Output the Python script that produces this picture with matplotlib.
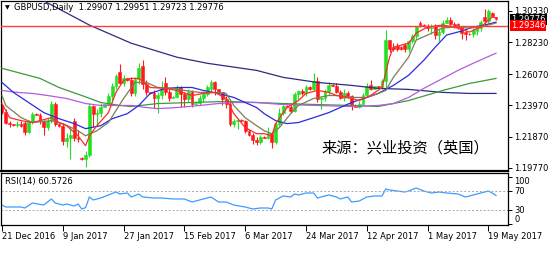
import matplotlib
matplotlib.use("Agg")
import matplotlib.pyplot as plt
import matplotlib.transforms as mtransforms
import numpy as np

# GBPUSD daily bars, 21 Dec 2016 .. 22 May 2017 (broker shows Sunday bars)
opens = [1.2395, 1.2350, 1.2280, 1.2270, 1.2265, 1.2275, 1.2280, 1.2220, 1.2285, 1.2340,
         1.2335, 1.2290, 1.2250, 1.2295, 1.2410, 1.2275, 1.2260, 1.2160, 1.2175, 1.2290,
         1.2180, 1.2045, 1.2035, 1.2065, 1.2395, 1.2340, 1.2345, 1.2390, 1.2405, 1.2460,
         1.2530, 1.2620, 1.2550, 1.2580, 1.2570, 1.2480, 1.2575, 1.2660, 1.2540, 1.2485,
         1.2480, 1.2450, 1.2470, 1.2550, 1.2490, 1.2450, 1.2455, 1.2520, 1.2475, 1.2440,
         1.2490, 1.2410, 1.2415, 1.2450, 1.2475, 1.2505, 1.2555, 1.2505, 1.2485, 1.2440,
         1.2405, 1.2270, 1.2290, 1.2300, 1.2295, 1.2225, 1.2200, 1.2165, 1.2150, 1.2185,
         1.2180, 1.2210, 1.2150, 1.2270, 1.2345, 1.2395, 1.2390, 1.2360, 1.2475, 1.2495,
         1.2480, 1.2520, 1.2505, 1.2560, 1.2440, 1.2450, 1.2495, 1.2535, 1.2530, 1.2490,
         1.2450, 1.2480, 1.2460, 1.2400, 1.2390, 1.2410, 1.2470, 1.2535, 1.2510, 1.2525,
         1.2520, 1.2565, 1.2835, 1.2790, 1.2800, 1.2790, 1.2805, 1.2775, 1.2830, 1.2865,
         1.2955, 1.2940, 1.2930, 1.2920, 1.2930, 1.2870, 1.2890, 1.2955, 1.2975, 1.2945,
         1.2945, 1.2925, 1.2890, 1.2880, 1.2875, 1.2895, 1.2920, 1.2990, 1.2965, 1.3020,
         1.29907]
highs = [1.2410, 1.2375, 1.2295, 1.2275, 1.2290, 1.2290, 1.2295, 1.2300, 1.2355, 1.2345,
         1.2345, 1.2300, 1.2310, 1.2430, 1.2420, 1.2280, 1.2275, 1.2210, 1.2250, 1.2310,
         1.2230, 1.2050, 1.2090, 1.2415, 1.2400, 1.2370, 1.2415, 1.2410, 1.2480, 1.2545,
         1.2610, 1.2674, 1.2600, 1.2585, 1.2590, 1.2590, 1.2680, 1.2706, 1.2570, 1.2490,
         1.2500, 1.2490, 1.2560, 1.2586, 1.2510, 1.2460, 1.2535, 1.2530, 1.2490, 1.2510,
         1.2500, 1.2420, 1.2470, 1.2490, 1.2535, 1.2570, 1.2565, 1.2510, 1.2490, 1.2460,
         1.2420, 1.2305, 1.2315, 1.2305, 1.2300, 1.2240, 1.2215, 1.2185, 1.2200, 1.2190,
         1.2250, 1.2215, 1.2285, 1.2380, 1.2400, 1.2400, 1.2400, 1.2485, 1.2500, 1.2510,
         1.2535, 1.2525, 1.2615, 1.2590, 1.2460, 1.2510, 1.2555, 1.2540, 1.2545, 1.2500,
         1.2510, 1.2495, 1.2470, 1.2405, 1.2425, 1.2480, 1.2545, 1.2570, 1.2530, 1.2530,
         1.2575, 1.2905, 1.2840, 1.2820, 1.2815, 1.2800, 1.2820, 1.2840, 1.2875, 1.2935,
         1.2965, 1.2945, 1.2945, 1.2945, 1.2945, 1.2915, 1.2970, 1.2990, 1.2990, 1.2960,
         1.2955, 1.2935, 1.2900, 1.2885, 1.2920, 1.2935, 1.2970, 1.3048, 1.3045, 1.3025,
         1.29951]
lows = [1.2340, 1.2270, 1.2255, 1.2260, 1.2250, 1.2250, 1.2200, 1.2210, 1.2270, 1.2330,
        1.2270, 1.2200, 1.2235, 1.2280, 1.2260, 1.2255, 1.2130, 1.2120, 1.2040, 1.2160,
        1.2150, 1.2030, 1.1986, 1.2050, 1.2255, 1.2260, 1.2320, 1.2385, 1.2400, 1.2420,
        1.2510, 1.2540, 1.2530, 1.2560, 1.2460, 1.2460, 1.2540, 1.2510, 1.2470, 1.2475,
        1.2380, 1.2345, 1.2440, 1.2470, 1.2430, 1.2445, 1.2445, 1.2390, 1.2385, 1.2420,
        1.2385, 1.2405, 1.2400, 1.2420, 1.2460, 1.2490, 1.2470, 1.2480, 1.2400, 1.2380,
        1.2260, 1.2250, 1.2240, 1.2290, 1.2210, 1.2190, 1.2140, 1.2130, 1.2140, 1.2175,
        1.2170, 1.2110, 1.2140, 1.2260, 1.2330, 1.2385, 1.2345, 1.2350, 1.2440, 1.2470,
        1.2460, 1.2500, 1.2500, 1.2420, 1.2375, 1.2430, 1.2470, 1.2525, 1.2480, 1.2440,
        1.2430, 1.2450, 1.2365, 1.2385, 1.2380, 1.2400, 1.2460, 1.2500, 1.2505, 1.2515,
        1.2510, 1.2515, 1.2755, 1.2765, 1.2765, 1.2770, 1.2755, 1.2760, 1.2815, 1.2845,
        1.2925, 1.2925, 1.2895, 1.2880, 1.2845, 1.2830, 1.2880, 1.2950, 1.2930, 1.2915,
        1.2910, 1.2845, 1.2840, 1.2870, 1.2860, 1.2870, 1.2900, 1.2945, 1.2955, 1.2995,
        1.29723]
closes = [1.2350, 1.2280, 1.2270, 1.2265, 1.2275, 1.2260, 1.2220, 1.2285, 1.2340, 1.2335,
          1.2290, 1.2250, 1.2295, 1.2410, 1.2275, 1.2260, 1.2160, 1.2175, 1.2195, 1.2180,
          1.2170, 1.2035, 1.2065, 1.2395, 1.2340, 1.2345, 1.2390, 1.2405, 1.2460, 1.2530,
          1.2595, 1.2550, 1.2585, 1.2570, 1.2480, 1.2575, 1.2650, 1.2540, 1.2485, 1.2480,
          1.2450, 1.2470, 1.2510, 1.2490, 1.2450, 1.2455, 1.2520, 1.2475, 1.2440, 1.2490,
          1.2410, 1.2415, 1.2450, 1.2475, 1.2520, 1.2555, 1.2505, 1.2485, 1.2440, 1.2405,
          1.2270, 1.2290, 1.2300, 1.2295, 1.2225, 1.2200, 1.2165, 1.2150, 1.2185, 1.2180,
          1.2210, 1.2150, 1.2270, 1.2345, 1.2395, 1.2390, 1.2360, 1.2475, 1.2495, 1.2480,
          1.2520, 1.2505, 1.2560, 1.2440, 1.2450, 1.2495, 1.2535, 1.2530, 1.2490, 1.2450,
          1.2480, 1.2460, 1.2400, 1.2390, 1.2410, 1.2470, 1.2530, 1.2510, 1.2525, 1.2520,
          1.2565, 1.2835, 1.2775, 1.2780, 1.2780, 1.2780, 1.2775, 1.2830, 1.2865, 1.2930,
          1.2940, 1.2930, 1.2920, 1.2925, 1.2870, 1.2890, 1.2955, 1.2975, 1.2945, 1.2935,
          1.2925, 1.2885, 1.2880, 1.2875, 1.2905, 1.2925, 1.2960, 1.2965, 1.3030, 1.3000,
          1.29776]

# moving averages at some bars
fast_ma_bars = [0, 2, 5, 8, 13, 15, 17, 20, 22, 23, 25, 28, 30, 32, 34, 36, 39, 43, 46, 50,
                53, 56, 59, 61, 64, 67, 69, 71, 72, 75, 78, 80, 83, 86, 88, 92, 94, 97, 100, 102,
                103, 107, 109, 112, 116, 119, 123, 126, 129, 130]
fast_ma = [1.2410, 1.2315, 1.2295, 1.2282, 1.2315, 1.2282, 1.2261, 1.2193, 1.2126, 1.2193,
           1.2261, 1.2349, 1.2485, 1.2566, 1.2579, 1.2579, 1.2518, 1.2512, 1.2498, 1.2464,
           1.2478, 1.2485, 1.2444, 1.2342, 1.2248, 1.2207, 1.2207, 1.2193, 1.2275, 1.2383,
           1.2430, 1.2478, 1.2498, 1.2485, 1.2464, 1.2444, 1.2430, 1.2464, 1.2518, 1.2722,
           1.2789, 1.2816, 1.2884, 1.2925, 1.2938, 1.2925, 1.2891, 1.2925, 1.2992, 1.2986]
olive_ma_bars = [0, 1, 5, 8, 13, 16, 20, 22, 25, 28, 30, 32, 35, 38, 41, 45, 48, 52, 55, 59,
                 61, 64, 67, 69, 71, 73, 76, 78, 82, 86, 89, 92, 96, 99, 101, 103, 107, 109, 112, 116,
                 119, 123, 126, 130]
olive_ma = [1.2464, 1.2397, 1.2315, 1.2282, 1.2295, 1.2275, 1.2227, 1.2193, 1.2227, 1.2282,
            1.2363, 1.2444, 1.2552, 1.2552, 1.2518, 1.2512, 1.2498, 1.2485, 1.2485, 1.2478,
            1.2397, 1.2315, 1.2261, 1.2227, 1.2207, 1.2248, 1.2342, 1.2397, 1.2444, 1.2464,
            1.2464, 1.2451, 1.2451, 1.2478, 1.2498, 1.2586, 1.2722, 1.2837, 1.2871, 1.2918,
            1.2925, 1.2918, 1.2925, 1.2952]
blue_ma_bars = [0, 3, 7, 11, 15, 19, 22, 26, 29, 33, 36, 39, 43, 47, 50, 53, 57, 61, 64, 67,
                69, 72, 75, 78, 82, 86, 89, 92, 96, 99, 103, 107, 111, 114, 117, 121, 124, 127, 130]
blue_ma = [1.2552, 1.2485, 1.2417, 1.2349, 1.2308, 1.2275, 1.2241, 1.2261, 1.2308, 1.2342,
           1.2397, 1.2478, 1.2512, 1.2518, 1.2518, 1.2498, 1.2478, 1.2451, 1.2417, 1.2383,
           1.2342, 1.2295, 1.2275, 1.2282, 1.2315, 1.2349, 1.2383, 1.2417, 1.2451, 1.2478,
           1.2532, 1.2600, 1.2701, 1.2789, 1.2871, 1.2898, 1.2925, 1.2938, 1.2958]
purple_ma_bars = [0, 4, 8, 12, 17, 22, 26, 34, 38, 41, 46, 52, 57, 61, 67, 74, 83, 92, 99, 103,
                  107, 111, 116, 120, 124, 130]
purple_ma = [1.2498, 1.2485, 1.2478, 1.2464, 1.2444, 1.2410, 1.2397, 1.2397, 1.2383, 1.2376,
             1.2383, 1.2397, 1.2410, 1.2417, 1.2417, 1.2403, 1.2397, 1.2390, 1.2397, 1.2410,
             1.2451, 1.2512, 1.2579, 1.2633, 1.2681, 1.2749]
green_ma_bars = [0, 5, 10, 15, 21, 26, 31, 34, 41, 50, 59, 67, 74, 83, 92, 99, 107, 116, 123, 130]
green_ma = [1.2647, 1.2613, 1.2579, 1.2518, 1.2464, 1.2417, 1.2397, 1.2390, 1.2410, 1.2417,
            1.2424, 1.2417, 1.2410, 1.2403, 1.2397, 1.2390, 1.2430, 1.2498, 1.2545, 1.2579]
navy_ma_bars = [0, 11, 23, 34, 46, 54, 67, 74, 83, 92, 99, 107, 116, 123, 130]
navy_ma = [1.3250, 1.3101, 1.2938, 1.2816, 1.2722, 1.2681, 1.2633, 1.2586, 1.2552, 1.2532,
           1.2512, 1.2505, 1.2485, 1.2478, 1.2478]

# RSI(14)
rsi_bars = [0, 1, 5, 6, 8, 11, 13, 14, 16, 17, 19, 20, 21, 22, 23, 24, 26, 28, 30, 31,
            33, 34, 36, 37, 40, 42, 45, 48, 50, 52, 55, 57, 59, 61, 64, 66, 68, 70, 71, 72,
            74, 76, 77, 78, 80, 82, 83, 84, 86, 88, 89, 91, 92, 94, 96, 98, 100, 101, 102, 104,
            106, 107, 109, 111, 113, 115, 117, 120, 122, 124, 126, 128, 129, 130]
rsi = [40.5, 36.3, 36.3, 34.2, 44.7, 40.5, 53.2, 44.7, 40.5, 42.6,
       38.4, 42.6, 32.1, 35.0, 57.4, 51.1, 55.3, 61.6, 67.9, 63.7,
       65.8, 57.4, 63.7, 57.4, 55.3, 55.3, 53.2, 53.2, 46.8, 51.1,
       57.4, 46.8, 46.8, 40.5, 36.3, 32.1, 34.2, 34.2, 32.1, 51.1,
       59.5, 57.4, 63.7, 61.6, 65.8, 65.8, 55.3, 57.4, 61.6, 57.4,
       53.2, 57.4, 46.8, 48.9, 57.4, 59.5, 59.5, 74.2, 72.1, 70.0,
       67.9, 70.0, 76.3, 70.0, 65.8, 67.9, 65.8, 63.7, 57.4, 61.6,
       65.8, 70.0, 65.8, 60.57]

price_ticks = [1.30330, 1.28230, 1.26070, 1.23970, 1.21870, 1.19770]
date_tick_bars = [0, 16, 32, 48, 64, 80, 96, 112, 128]
date_tick_labels = ['21 Dec 2016', '9 Jan 2017', '27 Jan 2017', '15 Feb 2017', '6 Mar 2017',
                    '24 Mar 2017', '12 Apr 2017', '1 May 2017', '19 May 2017']
level_line = 1.29346
last_price = 1.29776

plt.rcParams['font.family'] = ['DejaVu Sans', 'Noto Sans CJK SC']
FS = 6

W, H = 551, 268
fig = plt.figure(figsize=(W / 100, H / 100), dpi=100)
fig.patch.set_facecolor('white')

ax = fig.add_axes([1 / W, 1 - 171 / H, 507 / W, 170 / H])
ax_rsi = fig.add_axes([1 / W, 1 - 225 / H, 507 / W, 52 / H])

# candles
x = np.arange(len(closes))
o = np.array(opens)
c = np.array(closes)
up = c >= o
cols = np.where(up, '#22e022', '#ff1a1a')
ax.vlines(x, lows, highs, colors=cols, lw=0.8, zorder=2)
ax.bar(x, np.abs(c - o), width=0.72, bottom=np.minimum(o, c), color=cols,
       edgecolor=cols, linewidth=0.4, zorder=2)

# moving averages
ax.plot(navy_ma_bars, navy_ma, color='#2b2b80', lw=0.9, zorder=3)
ax.plot(green_ma_bars, green_ma, color='#3c9a3c', lw=0.9, zorder=3)
ax.plot(purple_ma_bars, purple_ma, color='#b45be0', lw=0.9, zorder=3)
ax.plot(blue_ma_bars, blue_ma, color='#2a2ae0', lw=0.9, zorder=3)
ax.plot(olive_ma_bars, olive_ma, color='#7d7d55', lw=0.9, zorder=3)
ax.plot(fast_ma_bars, fast_ma, color='#ff2a2a', lw=0.9, zorder=3)

ax.axhline(level_line, color='#ff3b3b', lw=1.0, zorder=4)

ax.set_xlim(-0.26, 133.16)
ax.set_ylim(1.1956, 1.3100)
ax.set_xticks([])
ax.yaxis.tick_right()
ax.set_yticks(price_ticks)
ax.set_yticklabels(['%.5f' % p for p in price_ticks])
ax.tick_params(axis='y', length=3, width=0.7, pad=1.5, labelsize=FS)
for s in ax.spines.values():
    s.set_linewidth(0.9)
ax.spines['bottom'].set_linewidth(1.6)

# price boxes on the scale (the black one sits partly behind the red one)
tr = mtransforms.blended_transform_factory(ax.transAxes, ax.transData)
ax.text(1.006, last_price, '%.5f' % last_price, transform=tr, ha='left', va='center',
        fontsize=FS, color='white', zorder=5, clip_on=False,
        bbox=dict(boxstyle='square,pad=0.12', fc='black', ec='none'))
ax.text(1.006, level_line, '%.5f' % level_line, transform=tr, ha='left', va='center',
        fontsize=FS, color='white', zorder=6, clip_on=False,
        bbox=dict(boxstyle='square,pad=0.12', fc='#ff0000', ec='none'))

# header
fig.text(5 / W, 1 - 7.5 / H, '\u25bc', fontsize=4.5, color='black', va='center', ha='left')
fig.text(14 / W, 1 - 7.5 / H, 'GBPUSD,Daily  1.29907 1.29951 1.29723 1.29776',
         fontsize=FS, color='black', va='center', ha='left')

# watermark text
ax.text(0.632, 0.135, '来源：兴业投资（英国）', transform=ax.transAxes,
        family=['Noto Sans CJK SC', 'DejaVu Sans'], fontsize=11, color='black',
        ha='left', va='center', zorder=6)

# RSI panel
ax_rsi.plot(rsi_bars, rsi, color='#3d9bff', lw=0.9)
for lv in (70, 30):
    ax_rsi.axhline(lv, color='#a8a8a8', lw=0.7, ls=(0, (2, 2)))
ax_rsi.set_xlim(-0.26, 133.16)
ax_rsi.set_ylim(-1.6, 107.9)
ax_rsi.yaxis.tick_right()
ax_rsi.set_yticks([0, 30, 70, 100])
ax_rsi.set_yticklabels(['0', '30', '70', '100'])
ax_rsi.tick_params(axis='y', length=3, width=0.7, pad=1.5, labelsize=FS)
labs = ax_rsi.get_yticklabels()
labs[0].set_va('bottom')
labs[-1].set_va('top')
ax_rsi.set_xticks(date_tick_bars)
ax_rsi.set_xticklabels(date_tick_labels, ha='left')
ax_rsi.tick_params(axis='x', length=4, width=0.7, pad=1, labelsize=FS)
for s in ax_rsi.spines.values():
    s.set_linewidth(0.9)
ax_rsi.text(4 / 507, 0.84, 'RSI(14) 60.5726', transform=ax_rsi.transAxes,
            fontsize=FS, color='black', ha='left', va='center')

fig.savefig('out.png', dpi=100, facecolor='white')
